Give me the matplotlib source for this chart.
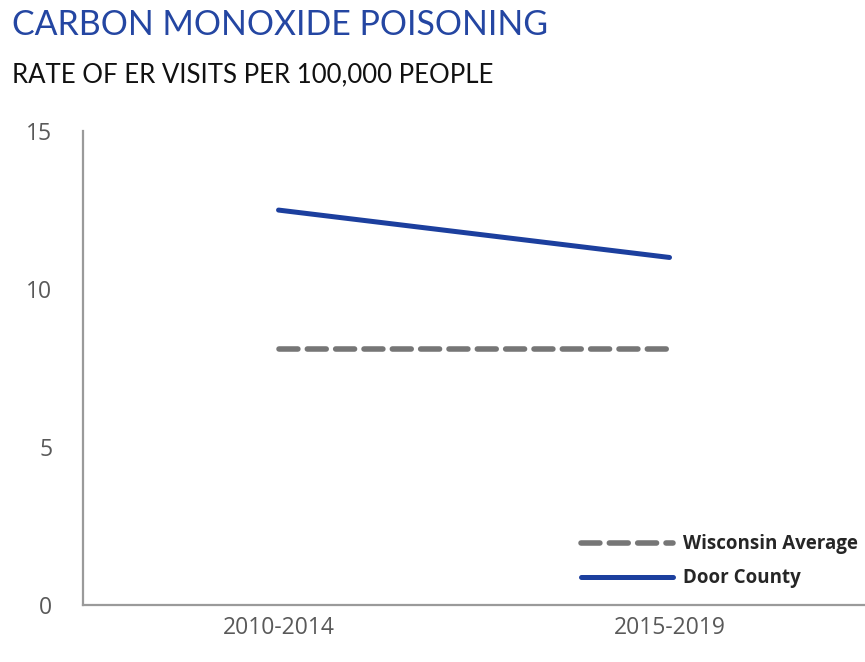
import matplotlib.pyplot as plt

periods = ["2010-2014", "2015-2019"]
door_county = [12.5, 11.0]
wisconsin_avg = [8.1, 8.1]
y_ticks = [0, 5, 10, 15]

fig = plt.figure(figsize=(8.65, 6.62), dpi=100)
ax = fig.add_axes([0.096, 0.086, 0.904, 0.716])

x = list(range(len(periods)))
ax.plot(x, wisconsin_avg, color="#767676", linewidth=4, linestyle=(0, (3.4, 1.7)),
        dash_capstyle="round", label="Wisconsin Average")
ax.plot(x, door_county, color="#1c3f9e", linewidth=3.6, solid_capstyle="round",
        label="Door County")

ax.set_xlim(-0.5, 1.5)
ax.set_ylim(0, 15)
ax.set_yticks(y_ticks)
ax.set_xticks(x)
ax.set_xticklabels(periods)
ax.tick_params(axis="both", length=0, labelsize=16.5, labelcolor="#595959")
ax.tick_params(axis="x", pad=8)
ax.tick_params(axis="y", pad=22)
for lbl in ax.get_xticklabels() + ax.get_yticklabels():
    lbl.set_family("Open Sans")

for side in ["top", "right"]:
    ax.spines[side].set_visible(False)
for side in ["left", "bottom"]:
    ax.spines[side].set_color("#9a9a9a")
    ax.spines[side].set_linewidth(1.6)

leg = ax.legend(loc="lower right", frameon=False, handlelength=4.9,
                prop={"family": "Open Sans", "weight": "bold", "size": 13.5},
                labelspacing=0.75, handletextpad=0.5, bbox_to_anchor=(1.012, 0.0))
for t in leg.get_texts():
    t.set_color("#262626")

fig.text(0.014, 0.962, "CARBON MONOXIDE POISONING", color="#2446a2", fontsize=24.4,
         family="Lato", va="center", ha="left")
fig.text(0.014, 0.887, "RATE OF ER VISITS PER 100,000 PEOPLE", color="#111111",
         fontsize=18.5, family="Lato", va="center", ha="left")

fig.savefig("out.png", dpi=100)
